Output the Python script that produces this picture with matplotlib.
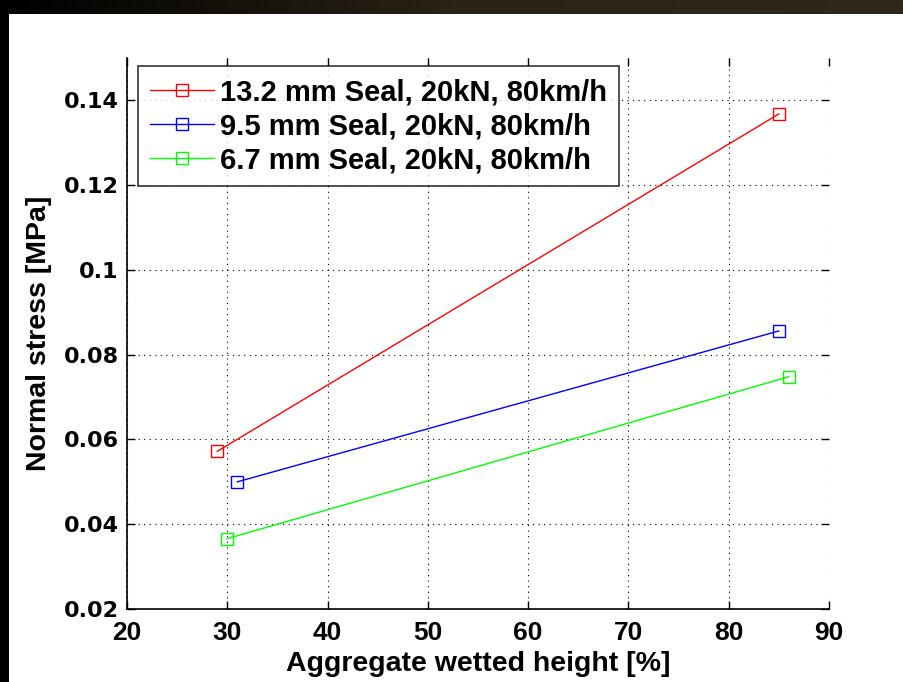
"""Normal stress vs aggregate wetted height for three seal sizes."""

import numpy as np
import matplotlib
matplotlib.use("Agg")
import matplotlib.pyplot as plt

plt.rcParams["font.family"] = ["Liberation Sans", "DejaVu Sans"]
plt.rcParams["font.weight"] = "bold"

# data
labels = [
    "13.2 mm Seal, 20kN, 80km/h",
    "9.5 mm Seal, 20kN, 80km/h",
    "6.7 mm Seal, 20kN, 80km/h",
]
colors = ["#ff0000", "#0000ff", "#00ff00"]
x_132 = [29.0, 85.0]
y_132 = [0.0572, 0.1368]
x_95 = [31.0, 85.0]
y_95 = [0.0500, 0.0856]
x_67 = [30.0, 86.0]
y_67 = [0.0366, 0.0748]

xticks = [20, 30, 40, 50, 60, 70, 80, 90]
yticks = [0.02, 0.04, 0.06, 0.08, 0.1, 0.12, 0.14]
ytick_labels = ["0.02", "0.04", "0.06", "0.08", "0.1", "0.12", "0.14"]


def main():
    fig = plt.figure(figsize=(9.04, 6.82), dpi=100)
    fig.patch.set_facecolor("white")

    # dark frame at top and left of the screenshot
    band = fig.add_axes([0, 1 - 14 / 682, 1, 14 / 682])
    grad = np.linspace(0, 1, 256).reshape(1, -1)
    cmap = matplotlib.colors.LinearSegmentedColormap.from_list(
        "band", ["#000000", "#2a2316", "#30291a"])
    band.imshow(grad, aspect="auto", cmap=cmap, extent=[0, 1, 0, 1])
    band.set_axis_off()
    left = fig.add_axes([0, 0, 9 / 904, 1])
    left.set_facecolor("black")
    left.set_xticks([])
    left.set_yticks([])
    for s in left.spines.values():
        s.set_visible(False)

    ax = fig.add_axes([127 / 904, 1 - 609 / 682, 702 / 904, 551 / 682])
    series = [(x_132, y_132), (x_95, y_95), (x_67, y_67)]
    for (xs, ys), lab, col in zip(series, labels, colors):
        ax.plot(xs, ys, color=col, lw=1.0, marker="s", ms=9,
                mfc="none", mec=col, mew=1.0, label=lab)

    ax.set_xlim(20, 90)
    ax.set_ylim(0.02, 0.15)
    ax.set_xticks(xticks)
    ax.set_yticks(yticks)
    ax.set_yticklabels(ytick_labels)
    ax.grid(True, color="black", linestyle=(0, (1, 4)), lw=0.8)
    ax.tick_params(direction="in", length=6, width=1,
                   top=True, right=True)
    ax.tick_params(axis="x", labelsize=19, pad=9)
    ax.tick_params(axis="y", labelsize=16, pad=6)
    for lab in ax.get_xticklabels():
        lab.set_fontweight("bold")
    for lab in ax.get_yticklabels():
        lab.set_fontweight("bold")
        lab.set_family("DejaVu Sans")
    ax.spines["top"].set_visible(False)
    ax.spines["right"].set_visible(False)
    ax.spines["left"].set_linewidth(1.2)
    ax.spines["bottom"].set_linewidth(1.2)

    ax.set_xlabel("Aggregate wetted height [%]", fontsize=20.5,
                  fontweight="bold", labelpad=4)
    ax.set_ylabel("Normal stress [MPa]", fontsize=20.5,
                  fontweight="bold", labelpad=8)

    leg = ax.legend(loc="upper left", bbox_to_anchor=(0.015, 0.985),
                    fontsize=21, frameon=True, fancybox=False,
                    handlelength=2.2, handletextpad=0.2, borderpad=0.42,
                    labelspacing=0.2, borderaxespad=0)
    leg.get_frame().set_edgecolor("black")
    leg.get_frame().set_linewidth(1.2)
    for t in leg.get_texts():
        t.set_fontweight("bold")

    fig.savefig("out.png", dpi=100)
    plt.close(fig)


if __name__ == "__main__":
    main()
